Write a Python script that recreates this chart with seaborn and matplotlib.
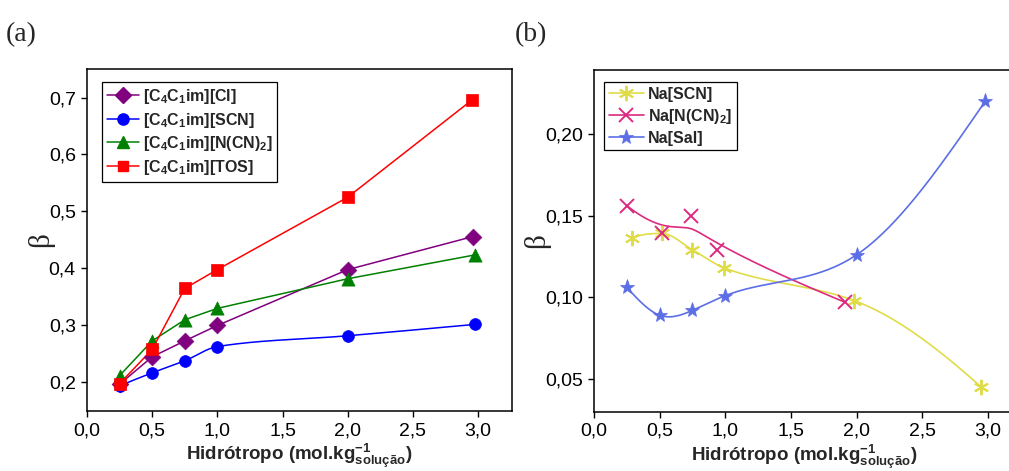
import numpy as np
import pandas as pd
import matplotlib
matplotlib.use("Agg")
import matplotlib.pyplot as plt
from matplotlib.lines import Line2D
from matplotlib.ticker import FuncFormatter, MultipleLocator
import seaborn as sns

# ---- panel (a): ionic-liquid hydrotropes ----
x_cl = [0.25, 0.50, 0.75, 1.00, 2.00, 2.96]
y_cl = [0.197, 0.245, 0.273, 0.300, 0.398, 0.456]

x_scn = [0.25, 0.50, 0.75, 1.00, 2.00, 2.98]
y_scn = [0.194, 0.217, 0.238, 0.263, 0.282, 0.302]

x_dca = [0.25, 0.50, 0.75, 1.00, 2.00, 2.98]
y_dca = [0.212, 0.273, 0.310, 0.330, 0.382, 0.424]

x_tos = [0.25, 0.50, 0.75, 1.00, 2.00, 2.95]
y_tos = [0.198, 0.258, 0.365, 0.398, 0.525, 0.695]

# ---- panel (b): sodium salts ----
x_na_scn = [0.29, 0.52, 0.75, 0.99, 1.98, 2.95]
y_na_scn = [0.136, 0.139, 0.129, 0.118, 0.098, 0.045]

x_na_dca = [0.25, 0.52, 0.74, 0.94, 1.91]
y_na_dca = [0.156, 0.139, 0.150, 0.129, 0.097]

x_na_sal = [0.25, 0.50, 0.75, 1.00, 2.00, 2.98]
y_na_sal = [0.106, 0.089, 0.092, 0.101, 0.126, 0.220]

labels_a = [r"[C$_\mathbf{4}$C$_\mathbf{1}$im][Cl]",
            r"[C$_\mathbf{4}$C$_\mathbf{1}$im][SCN]",
            r"[C$_\mathbf{4}$C$_\mathbf{1}$im][N(CN)$_\mathbf{2}$]",
            r"[C$_\mathbf{4}$C$_\mathbf{1}$im][TOS]"]
labels_b = ["Na[SCN]", r"Na[N(CN)$_\mathbf{2}$]", "Na[Sal]"]

xlabel = r"Hidrótropo (mol.kg$^{\mathbf{-1}}_{\mathbf{solução}}$)"


def natural_spline(x, y, n=300):
    x = np.asarray(x, float)
    y = np.asarray(y, float)
    m = len(x)
    h = np.diff(x)
    A = np.zeros((m, m))
    r = np.zeros(m)
    A[0, 0] = A[-1, -1] = 1.0
    for i in range(1, m - 1):
        A[i, i - 1] = h[i - 1]
        A[i, i] = 2 * (h[i - 1] + h[i])
        A[i, i + 1] = h[i]
        r[i] = 3 * ((y[i + 1] - y[i]) / h[i] - (y[i] - y[i - 1]) / h[i - 1])
    c = np.linalg.solve(A, r)
    b = (y[1:] - y[:-1]) / h - h * (2 * c[:-1] + c[1:]) / 3
    d = (c[1:] - c[:-1]) / (3 * h)
    xs = np.linspace(x[0], x[-1], n)
    k = np.clip(np.searchsorted(x, xs) - 1, 0, m - 2)
    dx = xs - x[k]
    ys = y[k] + b[k] * dx + c[k] * dx ** 2 + d[k] * dx ** 3
    return xs, ys


def pchip(x, y, n=300):
    """Shape-preserving piecewise cubic Hermite interpolation."""
    x = np.asarray(x, float)
    y = np.asarray(y, float)
    m = len(x)
    h = np.diff(x)
    delta = np.diff(y) / h
    d = np.zeros(m)
    for k in range(1, m - 1):
        if delta[k - 1] * delta[k] > 0:
            w1 = 2 * h[k] + h[k - 1]
            w2 = h[k] + 2 * h[k - 1]
            d[k] = (w1 + w2) / (w1 / delta[k - 1] + w2 / delta[k])

    def end_slope(h0, h1, del0, del1):
        s = ((2 * h0 + h1) * del0 - h0 * del1) / (h0 + h1)
        if np.sign(s) != np.sign(del0):
            s = 0.0
        elif np.sign(del0) != np.sign(del1) and abs(s) > abs(3 * del0):
            s = 3 * del0
        return s

    d[0] = end_slope(h[0], h[1], delta[0], delta[1])
    d[-1] = end_slope(h[-1], h[-2], delta[-1], delta[-2])
    xs = np.linspace(x[0], x[-1], n)
    k = np.clip(np.searchsorted(x, xs) - 1, 0, m - 2)
    t = (xs - x[k]) / h[k]
    h00 = 2 * t ** 3 - 3 * t ** 2 + 1
    h10 = t ** 3 - 2 * t ** 2 + t
    h01 = -2 * t ** 3 + 3 * t ** 2
    h11 = t ** 3 - t ** 2
    ys = h00 * y[k] + h10 * h[k] * d[k] + h01 * y[k + 1] + h11 * h[k] * d[k + 1]
    return xs, ys


def bspline(x, y, degree=3, n=300):
    P = np.column_stack([x, y]).astype(float)
    m = len(P)
    inner = np.linspace(0, 1, m - degree + 1)[1:-1]
    t = np.concatenate([np.zeros(degree + 1), inner, np.ones(degree + 1)])
    u = np.linspace(0, 1, n)
    u[-1] -= 1e-12

    def basis(i, k, uu):
        if k == 0:
            return ((t[i] <= uu) & (uu < t[i + 1])).astype(float)
        left = 0.0
        right = 0.0
        if t[i + k] != t[i]:
            left = (uu - t[i]) / (t[i + k] - t[i]) * basis(i, k - 1, uu)
        if t[i + k + 1] != t[i + 1]:
            right = (t[i + k + 1] - uu) / (t[i + k + 1] - t[i + 1]) * basis(i + 1, k - 1, uu)
        return left + right

    B = np.array([basis(i, degree, u) for i in range(m)])
    curve = B.T @ P
    return curve[:, 0], curve[:, 1]


CURVES = {"straight": lambda xs, ys: (np.asarray(xs), np.asarray(ys)),
          "pchip": pchip, "spline": natural_spline, "bspline": bspline}

sns.set_theme(style="ticks")
plt.rcParams.update({
    "font.family": ["Liberation Sans", "DejaVu Sans"],
    "mathtext.fontset": "custom",
    "mathtext.rm": "Liberation Sans:bold",
    "mathtext.bf": "Liberation Sans:bold",
    "mathtext.it": "Liberation Sans:bold:italic",
    "axes.edgecolor": "black",
    "axes.linewidth": 1.1,
    "xtick.color": "black",
    "ytick.color": "black",
    "xtick.major.size": 4.5,
    "ytick.major.size": 4.5,
    "xtick.major.width": 1.0,
    "ytick.major.width": 1.0,
    "xtick.labelsize": 14,
    "ytick.labelsize": 14,
})

fig = plt.figure(figsize=(10.09, 4.71), dpi=100)
ax1 = fig.add_axes([0.0862, 0.1274, 0.4212, 0.7261])
ax2 = fig.add_axes([0.5887, 0.1259, 0.4165, 0.7255])

comma = FuncFormatter(lambda v, p: ("%.1f" % v).replace(".", ","))
comma2 = FuncFormatter(lambda v, p: ("%.2f" % v).replace(".", ","))

legend_kw = dict(loc="upper left", borderaxespad=0, fancybox=False,
                 edgecolor="black", framealpha=1,
                 prop={"weight": "bold", "size": 11.5},
                 handletextpad=0.25, borderpad=0.3, handleheight=0.9)

# panel (a)
series_a = [
    (x_cl, y_cl, "#800080", "D", 8.5, "straight"),
    (x_scn, y_scn, "#0000FF", "o", 8.5, "pchip"),
    (x_dca, y_dca, "#008000", "^", 9.5, "straight"),
    (x_tos, y_tos, "#FF0000", "s", 8.0, "straight"),
]
handles_a = []
for (xs, ys, col, mk, ms, kind), lab in zip(series_a, labels_a):
    cx, cy = CURVES[kind](xs, ys)
    sns.lineplot(x=cx, y=cy, ax=ax1, color=col, lw=1.1, sort=False,
                 estimator=None, legend=False)
    sns.scatterplot(x=xs, y=ys, ax=ax1, color=col, marker=mk, s=ms ** 2,
                    edgecolor=col, linewidth=0.5, legend=False, zorder=3)
    handles_a.append(Line2D([], [], color=col, lw=1.1, marker=mk,
                            markersize=ms * 0.95, markeredgecolor=col, label=lab))

ax1.set_xlim(0, 3.26)
ax1.set_ylim(0.15, 0.75)
ax1.xaxis.set_major_locator(MultipleLocator(0.5))
ax1.yaxis.set_major_locator(MultipleLocator(0.1))
ax1.xaxis.set_major_formatter(comma)
ax1.yaxis.set_major_formatter(comma)
ax1.set_xlabel(xlabel, fontsize=13.5, fontweight="bold", labelpad=2)
ax1.set_ylabel("β", fontsize=21, family="Liberation Serif", labelpad=-4)
leg1 = ax1.legend(handles=handles_a, bbox_to_anchor=(0.035, 0.962),
                  labelspacing=0.3, handlelength=2.0, **legend_kw)
leg1.get_frame().set_linewidth(0.9)

# panel (b)
series_b = [
    (x_na_scn, y_na_scn, "#E0DC48", (6, 2, 0), 11, "pchip"),
    (x_na_dca, y_na_dca, "#DC2A80", "x", 10, "bspline"),
    (x_na_sal, y_na_sal, "#5C6EE6", "*", 11, "spline"),
]
handles_b = []
for (xs, ys, col, mk, ms, kind), lab in zip(series_b, labels_b):
    cx, cy = CURVES[kind](xs, ys)
    sns.lineplot(x=cx, y=cy, ax=ax2, color=col, lw=1.2, sort=False,
                 estimator=None, legend=False)
    lw_m = 1.4 if mk != "*" else 0.5
    ax2.plot(xs, ys, ls="none", marker=mk, markersize=ms, color=col,
             markeredgecolor=col, markeredgewidth=lw_m, zorder=3)
    handles_b.append(Line2D([], [], color=col, lw=1.2, marker=mk,
                            markersize=ms, markeredgecolor=col,
                            markeredgewidth=lw_m, label=lab))

ax2.set_xlim(0, 3.2)
ax2.set_ylim(0.03, 0.239)
ax2.xaxis.set_major_locator(MultipleLocator(0.5))
ax2.yaxis.set_major_locator(MultipleLocator(0.05))
ax2.xaxis.set_major_formatter(comma)
ax2.yaxis.set_major_formatter(comma2)
ax2.set_xlabel(xlabel, fontsize=13.5, fontweight="bold", labelpad=2)
ax2.set_ylabel("β", fontsize=21, family="Liberation Serif", labelpad=-4)
leg2 = ax2.legend(handles=handles_b, bbox_to_anchor=(0.024, 0.965),
                  labelspacing=0.3, handlelength=2.2, **legend_kw)
leg2.get_frame().set_linewidth(0.9)

for ax in (ax1, ax2):
    for sp in ax.spines.values():
        sp.set_visible(True)
        sp.set_color("black")
        sp.set_linewidth(1.1)

fig.text(0.006, 0.912, "(a)", fontsize=20, family="Liberation Serif")
fig.text(0.510, 0.912, "(b)", fontsize=20, family="Liberation Serif")

fig.savefig("out.png", dpi=100)
